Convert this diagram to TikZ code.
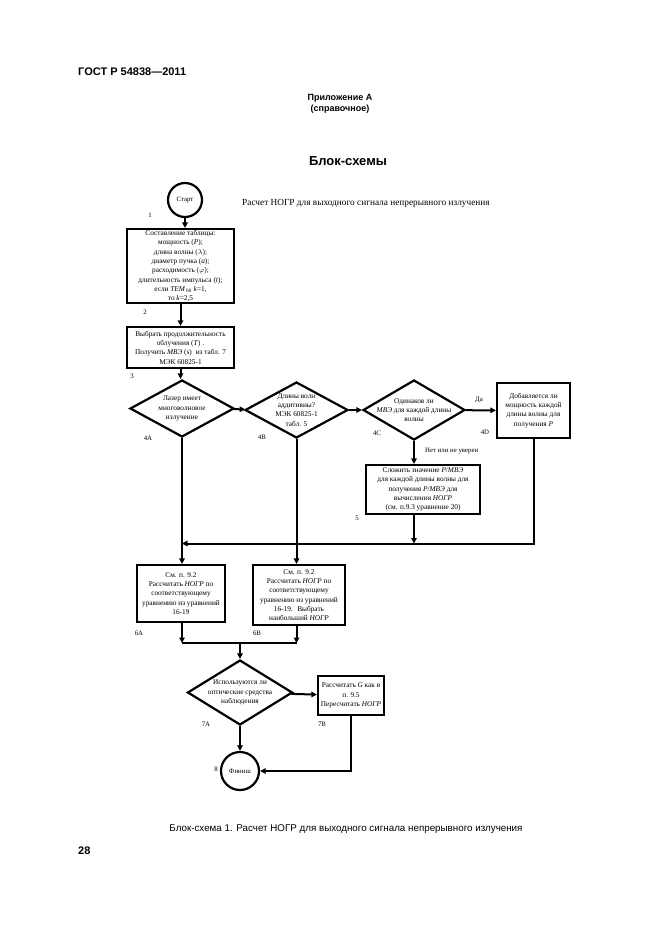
\documentclass[tikz,border=0pt]{standalone}
\usepackage{fontspec}
\setmainfont{Liberation Serif}
\newfontfamily\headfont{Liberation Sans}
\usetikzlibrary{arrows.meta,positioning,shapes.geometric,calc}
\tikzset{
    line/.style   = {-{Triangle[length=5.5pt,width=5.5pt]}, line width=2pt, draw=black},
    wire/.style   = {line width=2pt, draw=black},
    block/.style  = {draw=black, line width=2.2pt, fill=white,
            align=center, inner sep=1pt, font=\fontsize{7.3}{9.3}\selectfont},
    myDiamond/.style = {diamond, draw=black, line width=2.2pt, inner sep=0pt},
    dtext/.style  = {align=center, font=\fontsize{7.3}{9.3}\selectfont},
    term/.style   = {circle, draw=black, line width=2.2pt, inner sep=0pt,
            font=\fontsize{6.8}{8}\selectfont},
    tag/.style    = {inner sep=0pt, font=\fontsize{6.8}{8}\selectfont},
    head/.style   = {inner sep=0pt, font=\headfont\bfseries},
}
\newcommand{\Decision}[6]{% name, x, y, w, h, text
    \node[myDiamond, minimum width=#4pt, minimum height=#5pt] (#1) at (#2,#3) {};
    \node[dtext] at (#1) {#6};
}

\begin{document}
\begin{tikzpicture}[x=1pt,y=-1pt]
    \useasboundingbox[fill=white] (0,0) rectangle (661,935);

    % page header
    \node[head, anchor=west, font=\headfont\bfseries\fontsize{11}{12}\selectfont] (gost) at (78,72) {ГОСТ Р 54838—2011};
    \node[head, align=center, font=\headfont\bfseries\fontsize{9}{11}\selectfont] (annex) at (340,104) {Приложение А\\(справочное)};
    \node[head, font=\headfont\bfseries\fontsize{13}{14}\selectfont] (heading) at (348,161) {Блок-схемы};

    % start
    \node[term, minimum size=34pt] (start) at (185,200) {Старт};
    \node[anchor=west, inner sep=0pt, font=\fontsize{9.3}{10}\selectfont] (title) at (242,203) {Расчет НОГР для выходного сигнала непрерывного излучения};

    \node[block, minimum width=107pt, minimum height=74pt] (b2) at (180.5,266)
        {Составление таблицы:\\ мощность (\textit{P});\\ длина волны ($\lambda$);\\
         диаметр пучка (\textit{a});\\ расходимость ($\varphi$);\\ длительность импульса (\textit{t});\\
         если \textit{TEM}\textsubscript{\,00} \textit{k}=1,\\ то \textit{k}=2,5};
    \node[block, minimum width=107pt, minimum height=41pt] (b3) at (180.5,347.5)
        {Выбрать продолжительность\\ облучения (\textit{T}) .\\ Получить \textit{МВЭ} (s)\; из табл. 7\\ МЭК 60825-1};

    % decisions
    \Decision{d4a}{182}{408.5}{104}{57}{Лазер имеет\\ многоволновое\\ излучение}
    \Decision{d4b}{296.5}{410}{103}{56}{Длины волн\\ аддитивны?\\ МЭК 60825-1\\ табл. 5}
    \Decision{d4c}{414}{410}{102}{60}{Одинаков ли\\ \textit{МВЭ} для каждой длины\\ волны}
    \node[block, minimum width=73pt, minimum height=55pt] (b4d) at (533.5,410.5)
        {Добавляется ли\\ мощность каждой\\ длины волны для\\ получения \textit{P}};
    \node[block, minimum width=114pt, minimum height=49pt] (b5) at (423,489.5)
        {Сложить значение \textit{P}/\textit{МВЭ}\\ для каждой длины волны для\\ получения \textit{P}/\textit{МВЭ} для\\
         вычисления \textit{НОГР}\\ (см. п.9.3 уравнение 20)};

    % calculation
    \node[block, minimum width=88pt, minimum height=57pt] (b6a) at (181,593.5)
        {См. п. 9.2\\ Рассчитать \textit{НОГР} по\\ соответствующему\\ уравнению из уравнений\\ 16-19};
    \node[block, minimum width=92pt, minimum height=60pt] (b6b) at (299,595)
        {См. п. 9.2\\ Рассчитать \textit{НОГР} по\\ соответствующему\\ уравнению из уравнений\\ 16-19.\; Выбрать\\ наибольший \textit{НОГР}};
    \Decision{d7a}{240}{692.5}{105}{65}{Используются ли\\ оптические средства\\ наблюдения}
    \node[block, minimum width=66pt, minimum height=39pt] (b7b) at (351,695.5)
        {Рассчитать \textit{G} как в\\ п. 9.5\\ Пересчитать \textit{НОГР}};
    \node[term, minimum size=38pt] (finish) at (240,771) {Финиш};

    % step numbers
    \node[tag] (n1) at (150,215) {1};
    \node[tag] (n2) at (145,312) {2};
    \node[tag] (n3) at (132,376) {3};
    \node[tag] (n4a) at (148,438) {4A};
    \node[tag] (n4b) at (262,437) {4B};
    \node[tag] (n4c) at (377,433) {4C};
    \node[tag] (n4d) at (485,432) {4D};
    \node[tag] (yes) at (479,400) {Да};
    \node[tag, anchor=west] (no) at (425,451) {Нет или не уверен};
    \node[tag] (n5) at (357,518) {5};
    \node[tag] (n6a) at (139,633) {6A};
    \node[tag] (n6b) at (257,633) {6B};
    \node[tag] (n7a) at (206,724) {7A};
    \node[tag] (n7b) at (322,724) {7B};
    \node[tag] (n8) at (216,769) {8};

    % junction points
    \coordinate (jR) at ($(b4d.south |- 0,543.5)$);
    \coordinate (jL) at ($(d4a.south |- 0,543.5)$);
    \coordinate (jA) at ($(d4a.south |- 0,643)$);
    \coordinate (jB) at ($(d4b.south |- 0,643)$);
    \coordinate (jM) at ($(d7a.north |- 0,643)$);
    \coordinate (jF) at ($(b7b.south |- finish.east)$);

    % connectors
    \draw[line] (start) -- (start |- b2.north);
    \draw[line] (b2) -- (b3);
    \draw[line] (b3.south) -- (b3.south |- d4a.north);
    \draw[line] (d4a) -- (d4b);
    \draw[line] (d4b) -- (d4c);
    \draw[line] (d4c) -- (b4d);
    \draw[line] (d4c) -- (d4c.south |- b5.north);
    \draw[line] (d4a) -- (d4a.south |- b6a.north);
    \draw[line] (d4b) -- (d4b.south |- b6b.north);
    \draw[line] (b4d) -- (jR) -- (jL);
    \draw[line] (b5.south -| d4c.south) -- (d4c.south |- jR);
    \draw[line] (b6a.south -| jA) -- (jA);
    \draw[line] (b6b.south -| jB) -- (jB);
    \draw[wire] (jA) -- (jB);
    \draw[line] (jM) -- (d7a.north);
    \draw[line] (d7a) -- (b7b);
    \draw[line] (d7a) -- (finish);
    \draw[line] (b7b.south) -- (jF) -- (finish.east);

    % caption
    \node[inner sep=0pt, font=\headfont\fontsize{9.8}{11}\selectfont] (caption) at (346,829) {Блок-схема 1. Расчет НОГР для выходного сигнала непрерывного излучения};
    \node[head, anchor=west, font=\headfont\bfseries\fontsize{11}{12}\selectfont] (page) at (78,851) {28};
\end{tikzpicture}
\end{document}
